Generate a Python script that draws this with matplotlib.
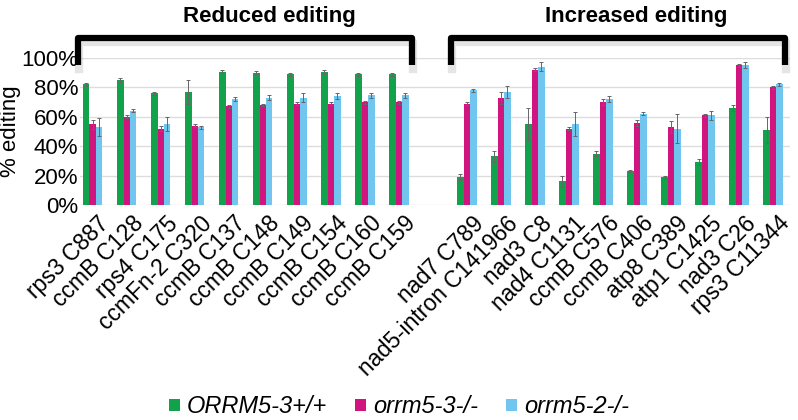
import numpy as np
import matplotlib
matplotlib.use("Agg")
from matplotlib import pyplot as plt
from matplotlib import transforms

plt.rcParams['font.family'] = ['Liberation Sans', 'DejaVu Sans']

# sites, reduced group first, then increased group ('' = gap)
sites = ["rps3 C887", "ccmB C128", "rps4 C175", "ccmFn-2 C320", "ccmB C137",
         "ccmB C148", "ccmB C149", "ccmB C154", "ccmB C160", "ccmB C159", "",
         "nad7 C789", "nad5-intron C141966", "nad3 C8", "nad4 C1131", "ccmB C576",
         "ccmB C406", "atp8 C389", "atp1 C1425", "nad3 C26", "rps3 C11344"]

wt = [82, 85, 76, 77, 90.5, 90, 89, 90.5, 89, 89, np.nan,
      19, 33, 55, 16, 35, 23, 19, 29, 66, 51]
m3 = [55, 60, 52, 54, 67, 68, 69, 69, 70, 70, np.nan,
      69, 73, 92, 52, 70, 56, 53, 61, 95, 80]
m2 = [53, 64, 55, 53, 72, 73, 73, 74, 74.5, 74.5, np.nan,
      78, 77, 94, 55, 72, 62, 52, 61, 95.5, 82]

wt_err = [1, 1.5, 1, 8, 1, 1, 1, 1.5, 1, 1, 0,
          2, 4, 11, 4, 2, 0.5, 1, 2, 2, 9]
m3_err = [3, 1, 2, 1, 1, 1, 1, 1, 1, 1, 0,
          1, 4, 1, 1, 2, 2, 4, 1, 1, 1]
m2_err = [6, 1, 4.5, 1, 1.5, 1.5, 3, 2, 2, 2, 0,
          1, 4, 3, 8, 2, 1, 10, 3, 2, 1]

series = ["ORRM5-3+/+", "orrm5-3-/-", "orrm5-2-/-"]
colors = ["#12a24b", "#d1157f", "#70c6ee"]

fig = plt.figure(figsize=(7.98, 4.2), dpi=100)
ax = fig.add_axes([0.100, 0.512, 0.890, 0.350])

x = np.arange(len(sites))
w = 0.19
for i, (vals, errs) in enumerate([(wt, wt_err), (m3, m3_err), (m2, m2_err)]):
    ax.bar(x + (i - 1) * w, vals, w, color=colors[i], label=series[i], zorder=3,
           yerr=errs, error_kw=dict(ecolor="#666666", elinewidth=0.7, capsize=1.5,
                                    capthick=0.7, zorder=4))

ax.set_ylim(0, 100)
ax.set_xlim(-0.38, 20.5)
ax.set_yticks(np.arange(0, 101, 20))
ax.set_yticklabels([f"{v}%" for v in range(0, 101, 20)], fontsize=16)
ax.set_xticks(x + 0.15)
ax.set_xticklabels(sites, rotation=45, ha="right", rotation_mode="anchor", fontsize=16.5)
ax.tick_params(axis="x", length=0, pad=5)
ax.tick_params(axis="y", length=0, pad=1)
ax.grid(axis="y", color="#dddddd", linewidth=1, zorder=0)
for s in ax.spines.values():
    s.set_visible(False)
ax.set_ylabel("% editing", fontsize=16)
ax.yaxis.set_label_coords(-0.083, 0.5)

# brackets above the groups, with a soft shadow
tr = transforms.blended_transform_factory(ax.transData, ax.transAxes)
shadow = transforms.offset_copy(tr, fig=fig, x=1, y=-3, units="points")
for x0, x1 in [(-0.44, 9.38), (10.53, 20.35)]:
    ax.plot([x0, x0, x1, x1], [0.95, 1.136, 1.136, 0.95], color="#999999", lw=6,
            alpha=0.25, solid_joinstyle="round", transform=shadow, clip_on=False)
    ax.plot([x0, x0, x1, x1], [0.95, 1.136, 1.136, 0.95], color="black", lw=4.5,
            solid_joinstyle="round", solid_capstyle="butt", transform=tr, clip_on=False)
ax.text(5.18, 1.28, "Reduced editing", transform=tr, ha="center", va="center",
        fontsize=16, fontweight="bold", family=["Liberation Sans Narrow", "Liberation Sans"])
ax.text(15.97, 1.28, "Increased editing", transform=tr, ha="center", va="center",
        fontsize=16, fontweight="bold", family=["Liberation Sans Narrow", "Liberation Sans"])

fig.legend(loc="center", bbox_to_anchor=(0.5, 0.031), ncol=3, frameon=False,
           handlelength=0.45, handleheight=0.45, handletextpad=0.3,
           columnspacing=1.2, prop={"style": "italic", "size": 17})

fig.savefig("out.png", dpi=100)
